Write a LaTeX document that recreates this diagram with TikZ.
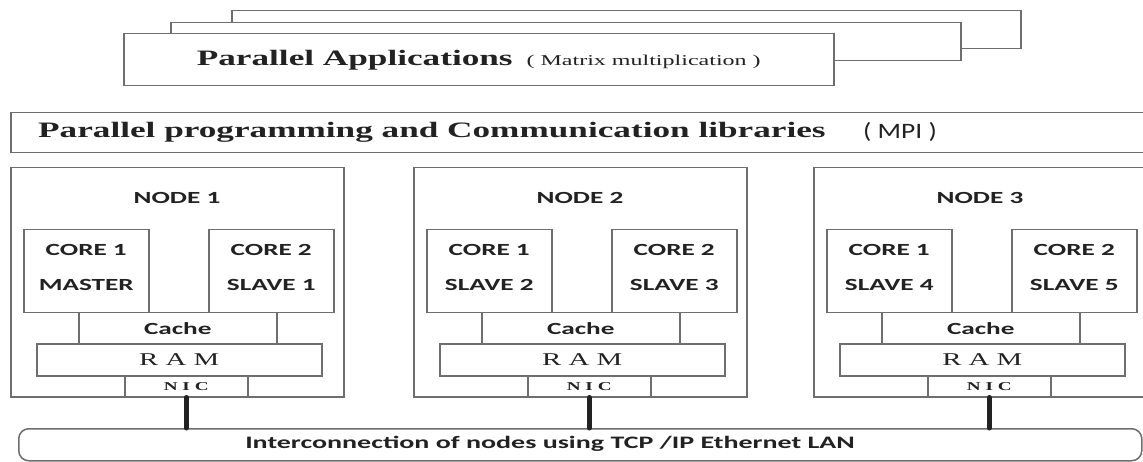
\documentclass[tikz,border=0pt]{standalone}
\usepackage{fontspec}
\setmainfont{Liberation Serif}
\newfontfamily\wideserif[FakeStretch=1.6]{Liberation Serif}
\newfontfamily\widesans[FakeStretch=1.6]{Carlito}
\newfontfamily\mpisans[FakeStretch=1.25]{Carlito}
\newcommand\layerfont{\wideserif\bfseries\fontsize{22}{24}\selectfont}
\newcommand\notefont{\wideserif\mdseries\fontsize{15}{17}\selectfont}
\newcommand\boxfont{\widesans\bfseries\fontsize{17}{35}\selectfont}
\newcommand\ramfont{\wideserif\fontsize{18}{20}\selectfont}
\newcommand\nicfont{\wideserif\bfseries\fontsize{12}{14}\selectfont}
\newcommand\lanfont{\widesans\bfseries\fontsize{17.5}{20}\selectfont}
\newcommand\mpifont{\mpisans\fontsize{22}{24}\selectfont}
\definecolor{cLine}{HTML}{6E6E6E}
\definecolor{cText}{HTML}{222222}
\tikzset{
  box/.style ={draw=cLine, line width=1.5pt, fill=white, inner sep=0pt, anchor=north west, text=cText},
  core/.style={minimum width=125, minimum height=83, align=center, font=\boxfont, text depth=8pt},
  lbl/.style ={inner sep=0pt, text=cText},
  cable/.style={line width=5pt, line cap=round, draw=cText},
}

\begin{document}
\begin{tikzpicture}[x=1pt, y=-1pt]
  \useasboundingbox (0,0) rectangle (1143,462);
  \clip (0,0) rectangle (1143,462);
  % application layer, three sheets back to front
  \node[box, minimum width=789, minimum height=38] (app3) at (231,10) {};
  \node[box, minimum width=790, minimum height=38] (app2) at (170,22) {};
  \node[box, minimum width=710, minimum height=52, font=\layerfont] (app1) at (123,33)
    {Parallel Applications\hspace{14pt}{\notefont( Matrix multiplication )}};
  % libraries
  \node[box, minimum width=1140, minimum height=40] (mpi) at (10,112) {};
  \node[lbl, font=\layerfont, anchor=west] (libs) at (38,132) {Parallel programming and Communication libraries};
  \node[lbl, font=\mpifont] (mpiname) at (900,132) {( MPI )};
  % network
  \node[box, rounded corners=10pt, minimum width=1123, minimum height=32] (lan) at (18,428) {};
  \node[lbl, font=\lanfont] (lantext) at (550,444) {Interconnection of nodes using TCP /IP Ethernet LAN};
  % machines
  \foreach \i/\x/\ra/\rb in {1/10/MASTER/SLAVE 1, 2/413/SLAVE 2/SLAVE 3, 3/813/SLAVE 4/SLAVE 5}{
    \node[box, minimum width=333, minimum height=229] (node\i) at (\x,167) {};
    \node[lbl, font=\boxfont] (title\i) at (\x+167,198) {NODE \i};
    \node[box, core] (coreA\i) at (\x+13,229) {CORE 1\\\ra};
    \node[box, core] (coreB\i) at (\x+198,229) {CORE 2\\\rb};
    \node[box, minimum width=198, minimum height=31, font=\boxfont] (cache\i) at (\x+68,312) {Cache};
    \node[box, minimum width=285, minimum height=32, font=\ramfont] (ram\i) at (\x+26,343) {R A M};
    \node[box, minimum width=123, minimum height=21, font=\nicfont] (nic\i) at (\x+114,375) {N I C};
    \draw[cable] (nic\i.south) -- (nic\i.south |- lan.north);
  }
\end{tikzpicture}
\end{document}
